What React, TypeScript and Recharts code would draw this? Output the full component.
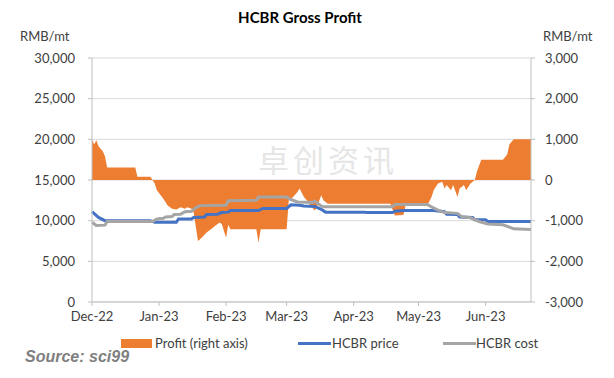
import React from "react";
import {
	ComposedChart,
	CartesianGrid,
	XAxis,
	YAxis,
	Area,
	Line,
} from "recharts";

// day offsets from 2022-12-01
const monthTicks = [0, 31, 62, 90, 121, 151, 182];
const monthLabels = ["Dec-22", "Jan-23", "Feb-23", "Mar-23", "Apr-23", "May-23", "Jun-23"];

const leftTicks = [0, 5000, 10000, 15000, 20000, 25000, 30000];
const rightTicks = [-3000, -2000, -1000, 0, 1000, 2000, 3000];

const profitDays = [
	0, 1, 2, 3, 5, 6, 7, 20, 21, 27, 28, 29, 30, 33, 35, 37, 39, 41, 43, 44, 46, 47, 49, 50, 53, 55,
	57, 59, 60, 62, 63, 64, 76, 77, 78, 90, 91, 93, 95, 96, 98, 100, 101, 103, 104, 106, 107, 109,
	138, 140, 144, 145, 155, 157, 158, 160, 162, 163, 164, 166, 167, 169, 170, 172, 173, 175, 177,
	178, 180, 190, 192, 193, 195, 203,
];
const profitValues = [
	1000, 875, 975, 830, 708, 583, 308, 308, 83, 83, 0, -83, -250, -458, -625, -708, -725, -667,
	-708, -667, -708, -792, -1500, -1458, -1292, -1208, -1125, -1042, -1083, -1417, -1100, -1208,
	-1208, -1542, -1208, -1208, -500, -417, -292, -208, -417, -542, -625, -750, -667, -375, -500,
	-583, -583, -875, -858, -625, -625, -417, -250, -83, -42, -208, -125, -250, -125, -417, -208,
	-125, -250, -83, 0, 208, 500, 500, 625, 875, 1000, 1000,
];

const priceDays = [
	0, 3, 6, 27, 29, 39, 40, 46, 47, 52, 53, 58, 60, 63, 64, 77, 79, 90, 92, 96, 98, 103, 106, 108,
	126, 127, 139, 140, 144, 158, 163, 164, 169, 170, 176, 177, 182, 183, 203,
];
const priceValues = [
	11100, 10400, 10000, 10000, 9800, 9800, 10200, 10200, 10400, 10450, 10750, 10800, 11000, 11050,
	11250, 11250, 11500, 11500, 11950, 11900, 11800, 11750, 11400, 11050, 11050, 11000, 11000,
	11150, 11250, 11250, 11100, 10800, 10750, 10450, 10400, 10100, 10100, 9900, 9900,
];

const costDays = [
	0, 2, 6, 7, 28, 30, 33, 34, 37, 38, 41, 43, 46, 48, 50, 62, 63, 76, 77, 90, 92, 95, 102, 103,
	106, 107, 139, 140, 155, 157, 160, 163, 169, 171, 175, 179, 183, 190, 193, 195, 203,
];
const costValues = [
	9800, 9400, 9450, 9900, 9900, 10200, 10300, 10450, 10500, 10750, 10800, 11100, 11150, 11600,
	11850, 11900, 12450, 12500, 12900, 12900, 12600, 12300, 12250, 12400, 11800, 11700, 11700,
	12000, 12000, 11700, 11300, 11000, 10900, 10500, 10350, 9900, 9600, 9500, 9200, 9000, 8900,
];

type Row = { day: number; profit?: number; price?: number; cost?: number };

const buildRows = (): Row[] => {
	const map = new Map<number, Row>();
	const put = (days: number[], values: number[], key: "profit" | "price" | "cost") => {
		days.forEach((d, i) => {
			const row = map.get(d) || { day: d };
			row[key] = values[i];
			map.set(d, row);
		});
	};
	put(profitDays, profitValues, "profit");
	put(priceDays, priceValues, "price");
	put(costDays, costValues, "cost");
	return Array.from(map.values()).sort((a, b) => a.day - b.day);
};

const data = buildRows();

const FONT = "Lato, 'Open Sans', sans-serif";
const TEXT = "#404040";
const AXIS = "#bfbfbf";

const fmt = (v: number) => v.toLocaleString("en-US");

const App: React.FC = () => {
	return (
		<div
			style={{
				position: "absolute",
				left: 0,
				top: 0,
				width: 614,
				height: 378,
				background: "#fff",
				fontFamily: FONT,
				color: TEXT,
			}}
		>
			<div
				style={{
					position: "absolute",
					left: 0,
					width: 600,
					top: 8,
					textAlign: "center",
					fontWeight: 700,
					fontSize: 15,
					color: "#000",
				}}
			>
				HCBR Gross Profit
			</div>
			<div style={{ position: "absolute", left: 20, top: 28, fontSize: 13 }}>RMB/mt</div>
			<div style={{ position: "absolute", left: 543, top: 28, fontSize: 13 }}>RMB/mt</div>
			<div
				style={{
					position: "absolute",
					left: 258,
					top: 136,
					fontSize: 31,
					color: "#e6e6e6",
					fontFamily: "'Noto Sans CJK SC'",
					letterSpacing: 4,
				}}
			>
				卓创资讯
			</div>

			<ComposedChart
				width={614}
				height={378}
				data={data}
				margin={{ top: 58, right: 0, bottom: 0, left: 0 }}
			>
				<CartesianGrid yAxisId="left" vertical={false} stroke="#d9d9d9" />
				<XAxis
					dataKey="day"
					type="number"
					domain={[0, 203]}
					ticks={monthTicks}
					interval={0}
					tickFormatter={(d: number) => monthLabels[monthTicks.indexOf(d)]}
					height={76}
					tickSize={4}
					tickMargin={6}
					axisLine={{ stroke: AXIS }}
					tickLine={{ stroke: AXIS }}
					tick={{ fill: TEXT, fontSize: 13, fontFamily: FONT }}
				/>
				<YAxis
					yAxisId="left"
					domain={[0, 30000]}
					ticks={leftTicks}
					interval={0}
					tickFormatter={fmt}
					width={92}
					tickSize={4}
					tickMargin={13}
					axisLine={{ stroke: AXIS }}
					tickLine={{ stroke: AXIS }}
					tick={{ fill: TEXT, fontSize: 13, fontFamily: FONT }}
				/>
				<YAxis
					yAxisId="right"
					orientation="right"
					domain={[-3000, 3000]}
					ticks={rightTicks}
					interval={0}
					tickFormatter={fmt}
					width={83}
					tickSize={4}
					tickMargin={10}
					axisLine={{ stroke: AXIS }}
					tickLine={{ stroke: AXIS }}
					tick={{ fill: TEXT, fontSize: 13, fontFamily: FONT }}
				/>
				<Area
					yAxisId="right"
					dataKey="profit"
					type="linear"
					baseValue={0}
					fill="#ED7D31"
					fillOpacity={1}
					stroke="none"
					connectNulls
					isAnimationActive={false}
				/>
				<Line
					yAxisId="left"
					dataKey="price"
					type="linear"
					stroke="#4472C4"
					strokeWidth={3}
					dot={false}
					connectNulls
					isAnimationActive={false}
				/>
				<Line
					yAxisId="left"
					dataKey="cost"
					type="linear"
					stroke="#A5A5A5"
					strokeWidth={3}
					dot={false}
					connectNulls
					isAnimationActive={false}
				/>
			</ComposedChart>

			<div style={{ position: "absolute", left: 121, top: 339, width: 31, height: 9, background: "#ED7D31" }} />
			<div style={{ position: "absolute", left: 155, top: 335, fontSize: 13 }}>Profit (right axis)</div>
			<div style={{ position: "absolute", left: 298, top: 342, width: 33, height: 3, background: "#4472C4" }} />
			<div style={{ position: "absolute", left: 332, top: 335, fontSize: 13 }}>HCBR price</div>
			<div style={{ position: "absolute", left: 443, top: 342, width: 33, height: 3, background: "#A5A5A5" }} />
			<div style={{ position: "absolute", left: 476, top: 335, fontSize: 13 }}>HCBR cost</div>
			<div
				style={{
					position: "absolute",
					left: 25,
					top: 348,
					fontSize: 16,
					fontWeight: 700,
					fontStyle: "italic",
					fontFamily: "'Liberation Sans', Arial, sans-serif",
					color: "#7f7f7f",
				}}
			>
				Source: sci99
			</div>
		</div>
	);
};

export default App;
